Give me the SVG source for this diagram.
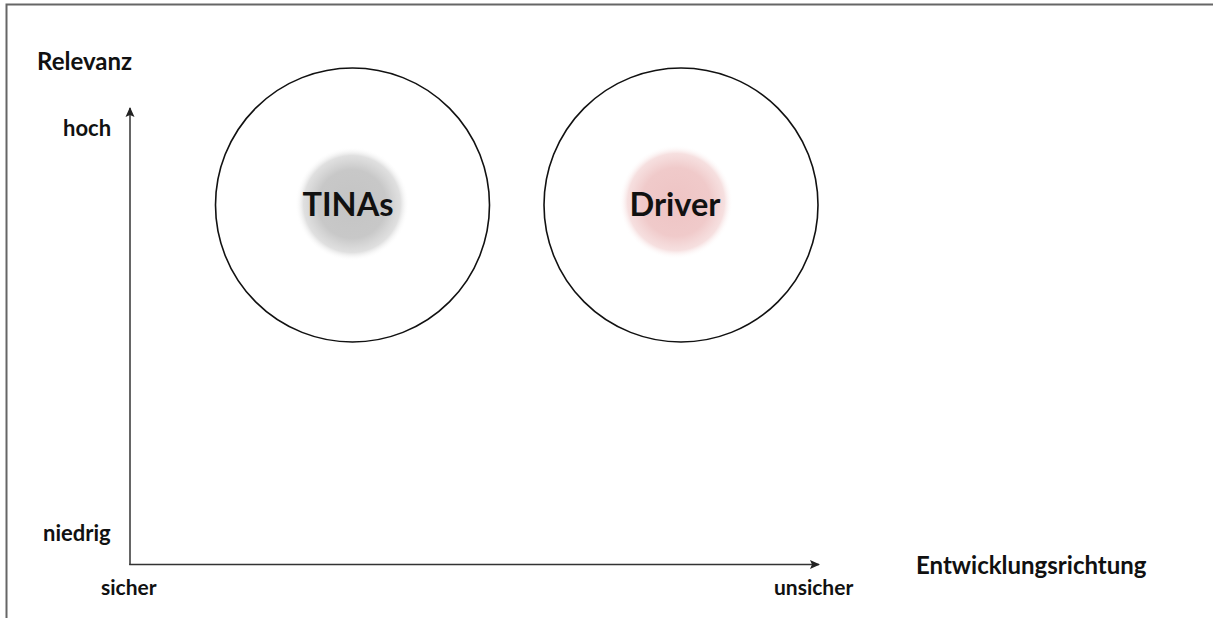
<svg xmlns="http://www.w3.org/2000/svg" width="1213" height="618" viewBox="0 0 1213 618">
  <style>
    .lbl { font-family: Lato, "Liberation Sans", sans-serif; font-weight: bold; fill: #111; }
    .big { font-size: 24px; }
    .sm { font-size: 22px; }
    .xs { font-size: 21px; }
    .node-text { font-family: Lato, "Liberation Sans", sans-serif; font-weight: bold; font-size: 32.5px; fill: #111; text-anchor: middle; }
    .ring { fill: none; stroke: #111; stroke-width: 1.6; }
    .axis { stroke: #333; stroke-width: 1.5; fill: none; }
  </style>
  <defs>
    <marker id="arrow" viewBox="0 0 10 10" refX="9" refY="5" markerWidth="10" markerHeight="10" markerUnits="userSpaceOnUse" orient="auto">
      <path d="M0,0.5 L10,5 L0,9.5 L2,5 Z" fill="#222"/>
    </marker>
    <radialGradient id="grayBlob">
      <stop offset="0" stop-color="#c4c4c4"/>
      <stop offset="0.6" stop-color="#c8c8c8"/>
      <stop offset="0.85" stop-color="#d8d8d8" stop-opacity="0.8"/>
      <stop offset="1" stop-color="#ffffff" stop-opacity="0"/>
    </radialGradient>
    <radialGradient id="pinkBlob">
      <stop offset="0" stop-color="#eec4c4"/>
      <stop offset="0.6" stop-color="#f0caca"/>
      <stop offset="0.85" stop-color="#f4d8d8" stop-opacity="0.8"/>
      <stop offset="1" stop-color="#ffffff" stop-opacity="0"/>
    </radialGradient>
  </defs>
  <rect width="1213" height="618" fill="#ffffff"/>
  <path d="M6.5,620 L6.5,4.5 L1215,4.5" fill="none" stroke="#666" stroke-width="2"/>

  <g id="labels">
    <text class="lbl big" x="37" y="70">Relevanz</text>
    <text class="lbl sm" x="63" y="136">hoch</text>
    <text class="lbl sm" x="43" y="541">niedrig</text>
    <text class="lbl xs" x="101" y="595">sicher</text>
    <text class="lbl xs" x="774" y="595">unsicher</text>
    <text class="lbl big" x="916" y="574">Entwicklungsrichtung</text>
  </g>

  <g id="connectors">
    <path class="axis" d="M130,565 L130,108" marker-end="url(#arrow)"/>
    <path class="axis" d="M129.25,564.5 L819,564.5" marker-end="url(#arrow)"/>
  </g>

  <g id="node-tinas">
    <circle class="ring" cx="352.5" cy="205" r="137"/>
    <circle cx="352" cy="204" r="57" fill="url(#grayBlob)"/>
    <text class="node-text" x="348" y="216">TINAs</text>
  </g>

  <g id="node-driver">
    <circle class="ring" cx="681" cy="205" r="137"/>
    <circle cx="676" cy="202" r="57" fill="url(#pinkBlob)"/>
    <text class="node-text" x="675" y="216">Driver</text>
  </g>
</svg>
